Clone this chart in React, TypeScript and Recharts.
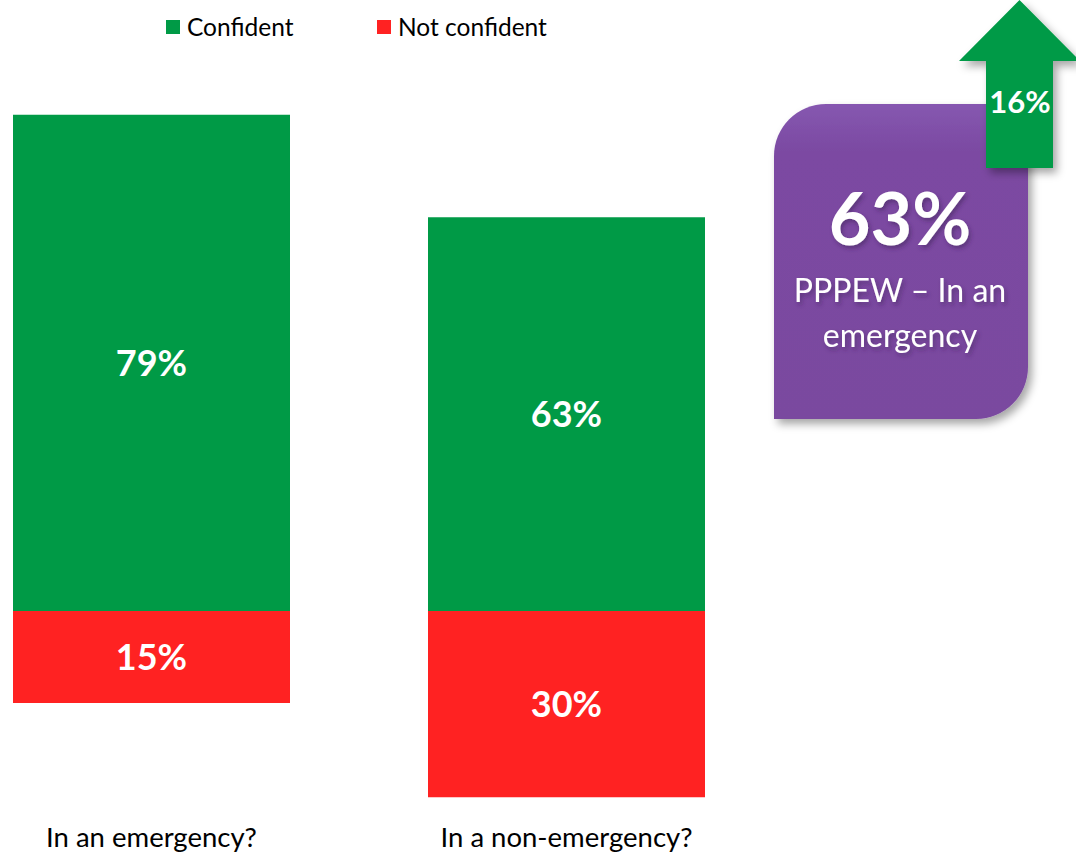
import React from "react";
import { Bar, BarChart, LabelList, Legend, XAxis, YAxis } from "recharts";

const categories = ["In an emergency?", "In a non-emergency?"];
const confident = [79.4, 63];
const notConfident = [14.7, 29.8];
const seriesNames = ["Confident", "Not confident"];

const GREEN = "#009A46";
const RED = "#FF2222";
const PURPLE = "#7B4AA2";
const FONT = "Lato, 'Open Sans', sans-serif";

const data = categories.map((category, i) => ({
  category,
  confident: confident[i],
  // drawn below the zero line
  notConfident: -notConfident[i],
}));

const pct = (v: unknown) => `${Math.round(Math.abs(Number(v)))}%`;

function LegendRow() {
  const items = [
    { name: seriesNames[0], color: GREEN, width: 211 },
    { name: seriesNames[1], color: RED, width: 200 },
  ];
  return (
    <div style={{ display: "flex", fontFamily: FONT, fontSize: 24.5, color: "#000" }}>
      {items.map((it) => (
        <div key={it.name} style={{ display: "flex", alignItems: "center", width: it.width }}>
          <span style={{ width: 14, height: 14, background: it.color, marginRight: 7 }} />
          <span>{it.name}</span>
        </div>
      ))}
    </div>
  );
}

function Callout() {
  return (
    <svg
      width={1076}
      height={859}
      style={{ position: "absolute", left: 0, top: 0, pointerEvents: "none" }}
    >
      <defs>
        <linearGradient id="purpleFill" x1="0" y1="0" x2="0" y2="1">
          <stop offset="0" stopColor="#8657B0" />
          <stop offset="0.15" stopColor={PURPLE} />
          <stop offset="1" stopColor="#7A489F" />
        </linearGradient>
        <filter id="shadow" x="-10%" y="-10%" width="130%" height="130%">
          <feDropShadow dx="4" dy="5" stdDeviation="4" floodColor="#000" floodOpacity="0.35" />
        </filter>
        <filter id="txtShadow" x="-10%" y="-10%" width="130%" height="130%">
          <feDropShadow dx="2" dy="3" stdDeviation="2" floodColor="#3a1a55" floodOpacity="0.5" />
        </filter>
      </defs>
      <path
        d="M774,156 A52,52 0 0 1 826,104 L1028,104 L1028,367 A52,52 0 0 1 976,419 L774,419 Z"
        fill="url(#purpleFill)"
        filter="url(#shadow)"
      />
      <g fill="#fff" fontFamily={FONT} textAnchor="middle" filter="url(#txtShadow)">
        <text x={900} y={245} fontSize={72} fontWeight={700}>
          63%
        </text>
        <text x={900} y={302} fontSize={32}>
          PPPEW – In an
        </text>
        <text x={900} y={347} fontSize={32}>
          emergency
        </text>
      </g>
      <path
        d="M1019.5,0 L1080,61 L1053,61 L1053,168 L986,168 L986,61 L959,61 Z"
        fill={GREEN}
        filter="url(#shadow)"
      />
      <text
        x={1020}
        y={113}
        fill="#fff"
        fontFamily={FONT}
        fontSize={31}
        fontWeight={700}
        textAnchor="middle"
      >
        16%
      </text>
    </svg>
  );
}

export default function App() {
  return (
    <div
      style={{
        position: "absolute",
        left: 0,
        top: 0,
        width: 1076,
        height: 859,
        overflow: "hidden",
        background: "#fff",
      }}
    >
      <div style={{ position: "absolute", left: -56, top: 0 }}>
        <BarChart
          width={1132}
          height={859}
          data={data}
          stackOffset="sign"
          margin={{ top: 48.5, right: 302, bottom: 0, left: 0 }}
        >
          <XAxis
            dataKey="category"
            axisLine={false}
            tickLine={false}
            tickSize={0}
            tickMargin={16}
            height={48}
            tick={{ fill: "#000", fontSize: 27.5, fontFamily: FONT }}
          />
          <YAxis hide type="number" domain={[-32, 90]} allowDataOverflow />
          <Legend
            verticalAlign="middle"
            align="center"
            wrapperStyle={{ top: 12, left: 222, width: "auto" }}
            content={() => <LegendRow />}
          />
          <Bar
            dataKey="confident"
            name={seriesNames[0]}
            stackId="a"
            fill={GREEN}
            barSize={277}
            isAnimationActive={false}
          >
            <LabelList
              dataKey="confident"
              position="center"
              formatter={pct}
              fill="#fff"
              fontSize={36}
              fontWeight={700}
              fontFamily={FONT}
            />
          </Bar>
          <Bar
            dataKey="notConfident"
            name={seriesNames[1]}
            stackId="a"
            fill={RED}
            barSize={277}
            isAnimationActive={false}
          >
            <LabelList
              dataKey="notConfident"
              position="center"
              formatter={pct}
              fill="#fff"
              fontSize={36}
              fontWeight={700}
              fontFamily={FONT}
            />
          </Bar>
        </BarChart>
      </div>
      <Callout />
    </div>
  );
}
